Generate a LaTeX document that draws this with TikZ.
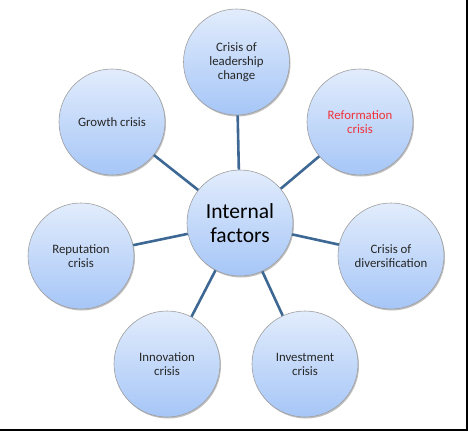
\documentclass[tikz,border=0pt]{standalone}
\usepackage{fontspec}
\setmainfont{Carlito}
\usetikzlibrary{shadows}
\definecolor{ballTop}{HTML}{E2ECFC}
\definecolor{ballBot}{HTML}{A6C6F7}
\definecolor{spoke}{HTML}{3E6894}
\definecolor{redtxt}{HTML}{F0323A}
\tikzset{
  ball/.style={circle,draw=gray!75,line width=0.6pt,minimum size=106pt,inner sep=0pt,
    top color=ballTop,bottom color=ballBot,align=center,text=black!85,
    font=\fontsize{12.8}{14}\selectfont,
    drop shadow={shadow xshift=1pt,shadow yshift=-1.5pt,opacity=0.25,fill=black}},
  hub/.style={font=\fontsize{21.5}{24}\selectfont,text=black},
  redball/.style={text=redtxt}
}

\begin{document}
\begin{tikzpicture}[x=1pt,y=-1pt]
\useasboundingbox (0,0) rectangle (468,431);
\draw[line width=1.5pt] (467.2,0)--(467.2,430.2)--(0,430.2);
\node[ball,hub] (c) at (240,223) {Internal\\factors};
\node[ball] (n1) at (236.5,62) {Crisis of\\leadership\\change};
\node[ball,redball] (n2) at (360,122) {Reformation\\crisis};
\node[ball] (n3) at (391,256) {Crisis of\\diversification};
\node[ball] (n4) at (305,364) {Investment\\crisis};
\node[ball] (n5) at (167,364) {Innovation\\crisis};
\node[ball] (n6) at (81,256) {Reputation\\crisis};
\node[ball] (n7) at (112,122) {Growth crisis};
\foreach \i in {1,...,7}{\draw[spoke,line width=2.6pt] (c)--(n\i);}
\end{tikzpicture}
\end{document}
